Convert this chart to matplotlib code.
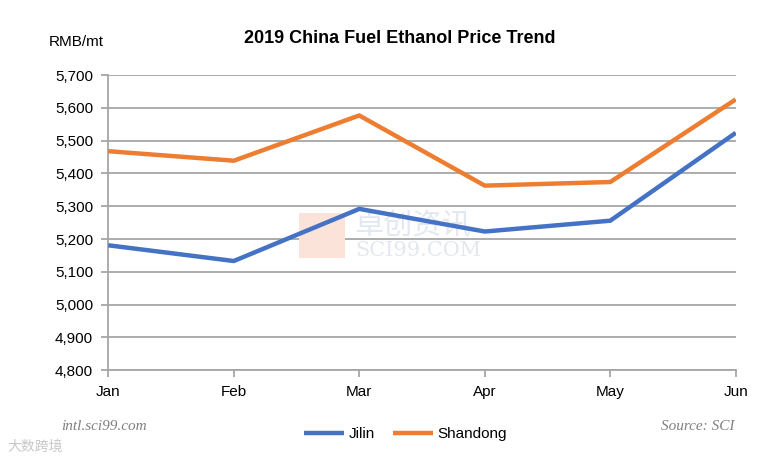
import matplotlib
matplotlib.use("Agg")
import matplotlib.pyplot as plt
from matplotlib.patches import Rectangle

months = ["Jan", "Feb", "Mar", "Apr", "May", "Jun"]
jilin = [5181, 5133, 5292, 5223, 5256, 5524]
shandong = [5468, 5439, 5577, 5363, 5374, 5626]
yticks = list(range(4800, 5701, 100))

plt.rcParams['font.family'] = ['Liberation Sans', 'DejaVu Sans']

fig = plt.figure(figsize=(7.68, 4.61), dpi=100)
ax = fig.add_axes([0.141, 0.197, 0.817, 0.640])

x = range(len(months))
ax.plot(x, jilin, color="#4472C4", lw=3.2, label="Jilin", solid_capstyle="butt", zorder=3)
ax.plot(x, shandong, color="#ED7D31", lw=3.2, label="Shandong", solid_capstyle="butt", zorder=3)

ax.set_xlim(0, len(months) - 1)
ax.set_ylim(4800, 5700)
ax.set_xticks(list(x))
ax.set_xticklabels(months, fontsize=11)
ax.set_yticks(yticks)
ax.set_yticklabels([f"{v:,}" for v in yticks], fontsize=11)
ax.grid(axis="y", color="#A6A6A6", lw=1.3)
ax.set_axisbelow(True)
for s in ["top", "right"]:
    ax.spines[s].set_visible(False)
for s in ["left", "bottom"]:
    ax.spines[s].set_color("#A6A6A6")
    ax.spines[s].set_linewidth(1.3)
ax.tick_params(axis="both", direction="out", length=5, color="#A6A6A6", width=1.3, pad=6)

# watermark
ax.add_patch(Rectangle((0.304, 0.38), 0.073, 0.153, transform=ax.transAxes,
                       facecolor="#FBE3D9", edgecolor="none", zorder=1))
ax.text(0.393, 0.487, "卓创资讯", transform=ax.transAxes, fontsize=21, color="#E3E8F0",
        family=["Noto Sans CJK SC"], ha="left", va="center", zorder=1)
ax.text(0.393, 0.405, "SCI99.COM", transform=ax.transAxes, fontsize=15, color="#E3E8F0",
        family=["DejaVu Serif"], ha="left", va="center", zorder=1)

fig.text(0.52, 0.917, "2019 China Fuel Ethanol Price Trend", ha="center", va="center",
         fontsize=13, fontweight="bold")
fig.text(0.063, 0.908, "RMB/mt", ha="left", va="center", fontsize=11)
fig.text(0.08, 0.074, "intl.sci99.com", ha="left", va="center", fontsize=11,
         style="italic", color="#808080", family=["Liberation Serif"])
fig.text(0.957, 0.074, "Source: SCI", ha="right", va="center", fontsize=11,
         style="italic", color="#808080", family=["Liberation Serif"])
fig.text(0.01, 0.03, "大数跨境", ha="left", va="center", fontsize=10,
         color="#C8C8C8", family=["Noto Sans CJK SC"])

fig.legend(loc="center", bbox_to_anchor=(0.528, 0.058), ncol=2, frameon=False,
           fontsize=11, handlelength=2.6, handletextpad=0.3, columnspacing=1.2)

fig.savefig("out.png", dpi=100)
